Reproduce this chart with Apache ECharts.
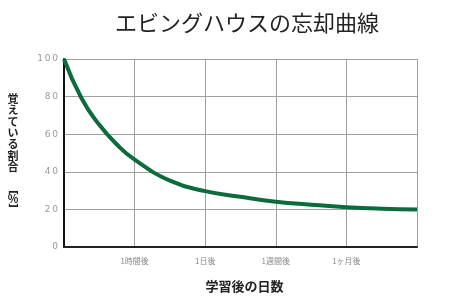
<!DOCTYPE html>
<html>
<head>
<meta charset="utf-8">
<script src="https://cdn.jsdelivr.net/npm/echarts@6/dist/echarts.min.js"></script>
<style>html,body{margin:0;padding:0;background:#fff}#c{width:453px;height:300px}</style>
</head>
<body>
<div id="c"></div>
<script>
var titleText = 'エビングハウスの忘却曲線';
var xTickLabels = ['', '1時間後', '1日後', '1週間後', '1ヶ月後', ''];
var yTicks = [0, 20, 40, 60, 80, 100];
var xAxisName = '学習後の日数';
var yAxisNameMain = ['覚', 'え', 'て', 'い', 'る', '割', '合'];
var yAxisNameUnit = ['[', '%', ']'];
// time position in axis units (one unit per labelled interval) and retention in %
var timePos = [0, 0.25, 0.5, 0.75, 1, 1.5, 2, 2.5, 3, 3.5, 4, 4.5, 5];
var retention = [100, 79, 65, 54.5, 46.5, 35.3, 29.7, 26.7, 24.1, 22.5, 21.2, 20.4, 20];

var chart = echarts.init(document.getElementById('c'));
var data = timePos.map(function (t, i) { return [t, retention[i]]; });

var nameFont = 'bold 11px "Noto Sans CJK JP"';
var graphics = [];
yAxisNameMain.forEach(function (ch, i) {
  graphics.push({ type: 'text', x: 13, y: 99 + i * 11.3,
    style: { text: ch, font: nameFont, fill: '#222', align: 'center', verticalAlign: 'middle' } });
});
// unit in vertical writing: brackets turned sideways, percent sign upright
var unitY = [192.5, 199, 205.5];
yAxisNameUnit.forEach(function (ch, i) {
  var isBracket = (i !== 1);
  graphics.push({ type: 'text', x: 13, y: unitY[i], rotation: isBracket ? -Math.PI / 2 : 0,
    style: { text: ch, font: isBracket ? 'bold 11px "DejaVu Sans"' : 'bold 11px "Noto Sans CJK JP"',
      fill: '#222', align: 'center', verticalAlign: 'middle' } });
});

chart.setOption({
  animation: false,
  title: {
    text: titleText, left: 242, top: 7, textAlign: 'center',
    textStyle: { fontFamily: 'Noto Sans CJK JP', fontSize: 22, fontWeight: 'normal', color: '#222' }
  },
  grid: { left: 64, right: 36, top: 59, bottom: 53 },
  xAxis: {
    type: 'value', min: 0, max: xTickLabels.length - 1, interval: 1,
    axisLine: { show: true, lineStyle: { color: '#222', width: 2 } },
    axisTick: { show: false },
    splitLine: { show: true, lineStyle: { color: '#a0a0a0', width: 1 } },
    axisLabel: {
      margin: 10, fontSize: 8, color: '#888', fontFamily: 'Noto Sans CJK JP',
      formatter: function (v) { return xTickLabels[Math.round(v)] || ''; }
    },
    name: xAxisName, nameLocation: 'middle', nameGap: 33,
    nameTextStyle: { fontFamily: 'Noto Sans CJK JP', fontSize: 13, fontWeight: 'bold', color: '#222', padding: [0, 0, 0, 8] }
  },
  yAxis: {
    type: 'value', min: yTicks[0], max: yTicks[yTicks.length - 1], interval: yTicks[1] - yTicks[0],
    axisLine: { show: true, lineStyle: { color: '#111', width: 2 } },
    axisTick: { show: false },
    splitLine: { show: true, lineStyle: { color: '#a0a0a0', width: 1 } },
    axisLabel: {
      margin: 6, fontSize: 9, color: '#999', fontFamily: 'DejaVu Sans',
      formatter: function (v) { return String(v).split('').join('\u2009'); }
    }
  },
  graphic: graphics,
  series: [{
    type: 'line', data: data, smooth: 0.5, showSymbol: false,
    lineStyle: { color: '#0b6b3a', width: 4 }
  }]
});
</script>
</body>
</html>
